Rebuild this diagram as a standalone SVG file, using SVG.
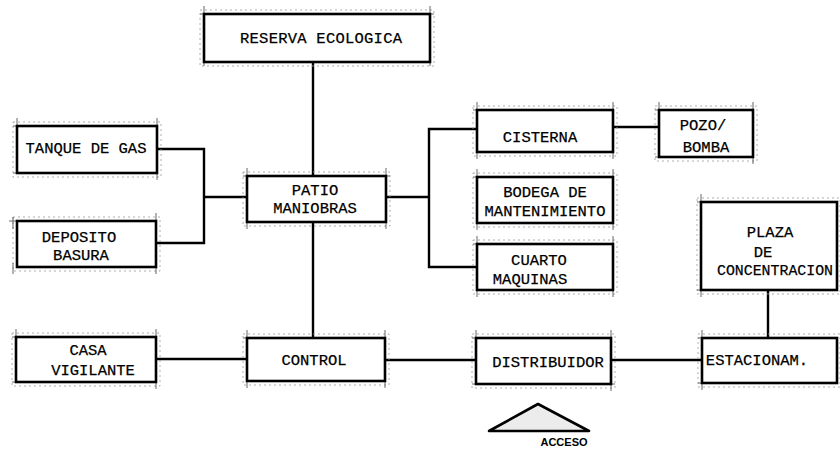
<svg xmlns="http://www.w3.org/2000/svg" width="840" height="451" viewBox="0 0 840 451">
  <style>
    .box { fill: #fff; stroke: #000; stroke-width: 2.6; }
    .guide { fill: none; stroke: #999; stroke-width: 0.8; stroke-dasharray: 2 3; }
    .tick { stroke: #555; stroke-width: 0.9; }
    .wire { fill: none; stroke: #000; stroke-width: 2.4; stroke-linejoin: miter; }
    .lbl { font-family: "Liberation Mono", "DejaVu Sans Mono", monospace; font-size: 15.5px; fill: #000; stroke: #000; stroke-width: 0.25; text-anchor: middle; }
    .small { font-family: "Liberation Sans", Arial, sans-serif; font-size: 11px; font-weight: bold; fill: #000; text-anchor: middle; }
  </style>

  <g id="connectors">
    <path class="wire" d="M313 62 V176"/>
    <path class="wire" d="M313 222 V338"/>
    <path class="wire" d="M157 149 H204 V243 H156 M204 197 H247"/>
    <path class="wire" d="M386 197 H429 M477 129 H429 V267 H477"/>
    <path class="wire" d="M613 127 H659"/>
    <path class="wire" d="M768 290 V338"/>
    <path class="wire" d="M156 359 H247"/>
    <path class="wire" d="M385 360 H476"/>
    <path class="wire" d="M611 360 H702"/>
  </g>

  <g id="reserva">
    <rect class="guide" x="200" y="10" width="234" height="56"/>
    <path class="tick" d="M204 6 V18 M200 14 H208 M430 6 V18 M426 14 H434 M204 58 V66 M430 58 V66"/>
    <rect class="box" x="204" y="14" width="226" height="48"/>
    <text class="lbl" x="321" y="43" textLength="162" lengthAdjust="spacing">RESERVA ECOLOGICA</text>
  </g>

  <g id="tanque">
    <rect class="guide" x="13" y="122" width="148" height="55"/>
    <path class="tick" d="M17 118 V130 M13 126 H21 M157 118 V130 M157 169 V180 M13 173 H21"/>
    <rect class="box" x="17" y="126" width="140" height="47"/>
    <text class="lbl" x="86" y="153">TANQUE DE GAS</text>
  </g>

  <g id="deposito">
    <rect class="guide" x="13" y="217" width="147" height="54"/>
    <path class="tick" d="M13 217 V229 M9 221 H21 M156 213 V225 M13 263 V274 M156 263 V274"/>
    <rect class="box" x="17" y="221" width="139" height="46"/>
    <text class="lbl" x="79" y="242">DEPOSITO</text>
    <text class="lbl" x="81" y="260">BASURA</text>
  </g>

  <g id="patio">
    <rect class="guide" x="243" y="172" width="147" height="54"/>
    <path class="tick" d="M247 168 V180 M243 176 H251 M386 168 V180 M382 176 H390 M247 218 V229 M386 218 V229"/>
    <rect class="box" x="247" y="176" width="139" height="46"/>
    <text class="lbl" x="315" y="195">PATIO</text>
    <text class="lbl" x="315" y="213">MANIOBRAS</text>
  </g>

  <g id="cisterna">
    <rect class="guide" x="473" y="106" width="144" height="50"/>
    <path class="tick" d="M477 102 V114 M473 110 H481 M613 102 V114 M477 148 V159 M613 148 V159"/>
    <rect class="box" x="477" y="110" width="136" height="42"/>
    <text class="lbl" x="540" y="142">CISTERNA</text>
  </g>

  <g id="pozo">
    <rect class="guide" x="655" y="106" width="102" height="55"/>
    <path class="tick" d="M659 102 V114 M655 110 H663 M753 102 V114 M655 157 H663 M753 153 V164"/>
    <rect class="box" x="659" y="110" width="94" height="47"/>
    <text class="lbl" x="703" y="130">POZO/</text>
    <text class="lbl" x="706" y="152">BOMBA</text>
  </g>

  <g id="bodega">
    <rect class="guide" x="473" y="173" width="144" height="54"/>
    <path class="tick" d="M477 169 V181 M473 177 H481 M613 169 V181 M477 219 V230 M613 219 V230"/>
    <rect class="box" x="477" y="177" width="136" height="46"/>
    <text class="lbl" x="545" y="197">BODEGA DE</text>
    <text class="lbl" x="545" y="216">MANTENIMIENTO</text>
  </g>

  <g id="cuarto">
    <rect class="guide" x="473" y="240" width="144" height="54"/>
    <path class="tick" d="M477 236 V248 M473 244 H481 M613 236 V248 M477 286 V297 M613 286 V297"/>
    <rect class="box" x="477" y="244" width="136" height="46"/>
    <text class="lbl" x="539" y="265">CUARTO</text>
    <text class="lbl" x="530" y="284">MAQUINAS</text>
  </g>

  <g id="plaza">
    <rect class="guide" x="697" y="198" width="143" height="96"/>
    <path class="tick" d="M701 194 V206 M697 202 H705 M697 290 H705 M701 286 V297"/>
    <rect class="box" x="701" y="202" width="136" height="88"/>
    <text class="lbl" x="770" y="237">PLAZA</text>
    <text class="lbl" x="763" y="257">DE</text>
    <text class="lbl" x="775" y="275" textLength="116" lengthAdjust="spacingAndGlyphs">CONCENTRACION</text>
  </g>

  <g id="casa">
    <rect class="guide" x="12" y="333" width="148" height="53"/>
    <path class="tick" d="M16 329 V341 M12 337 H20 M156 329 V341 M12 382 H20 M156 378 V389"/>
    <rect class="box" x="16" y="337" width="140" height="45"/>
    <text class="lbl" x="88" y="355">CASA</text>
    <text class="lbl" x="93" y="375">VIGILANTE</text>
  </g>

  <g id="control">
    <rect class="guide" x="243" y="334" width="146" height="51"/>
    <path class="tick" d="M247 330 V342 M243 338 H251 M385 330 V342 M247 377 V388 M385 377 V388"/>
    <rect class="box" x="247" y="338" width="138" height="43"/>
    <text class="lbl" x="314" y="365">CONTROL</text>
  </g>

  <g id="distribuidor">
    <rect class="guide" x="472" y="334" width="143" height="54"/>
    <path class="tick" d="M476 330 V342 M472 338 H480 M611 330 V342 M472 384 H480 M611 380 V391 M607 384 H615"/>
    <rect class="box" x="476" y="338" width="135" height="46"/>
    <text class="lbl" x="548" y="367">DISTRIBUIDOR</text>
  </g>

  <g id="estacionamiento">
    <rect class="guide" x="698" y="334" width="142" height="53"/>
    <path class="tick" d="M702 330 V342 M698 338 H706 M698 383 H706 M702 379 V390"/>
    <rect class="box" x="702" y="338" width="135" height="45"/>
    <text class="lbl" x="757" y="365">ESTACIONAM.</text>
  </g>

  <g id="acceso">
    <polygon points="538,404 589,431 489,431" fill="#ececec" stroke="#000" stroke-width="2.6" stroke-linejoin="round"/>
    <text class="small" x="564" y="446">ACCESO</text>
  </g>
</svg>
